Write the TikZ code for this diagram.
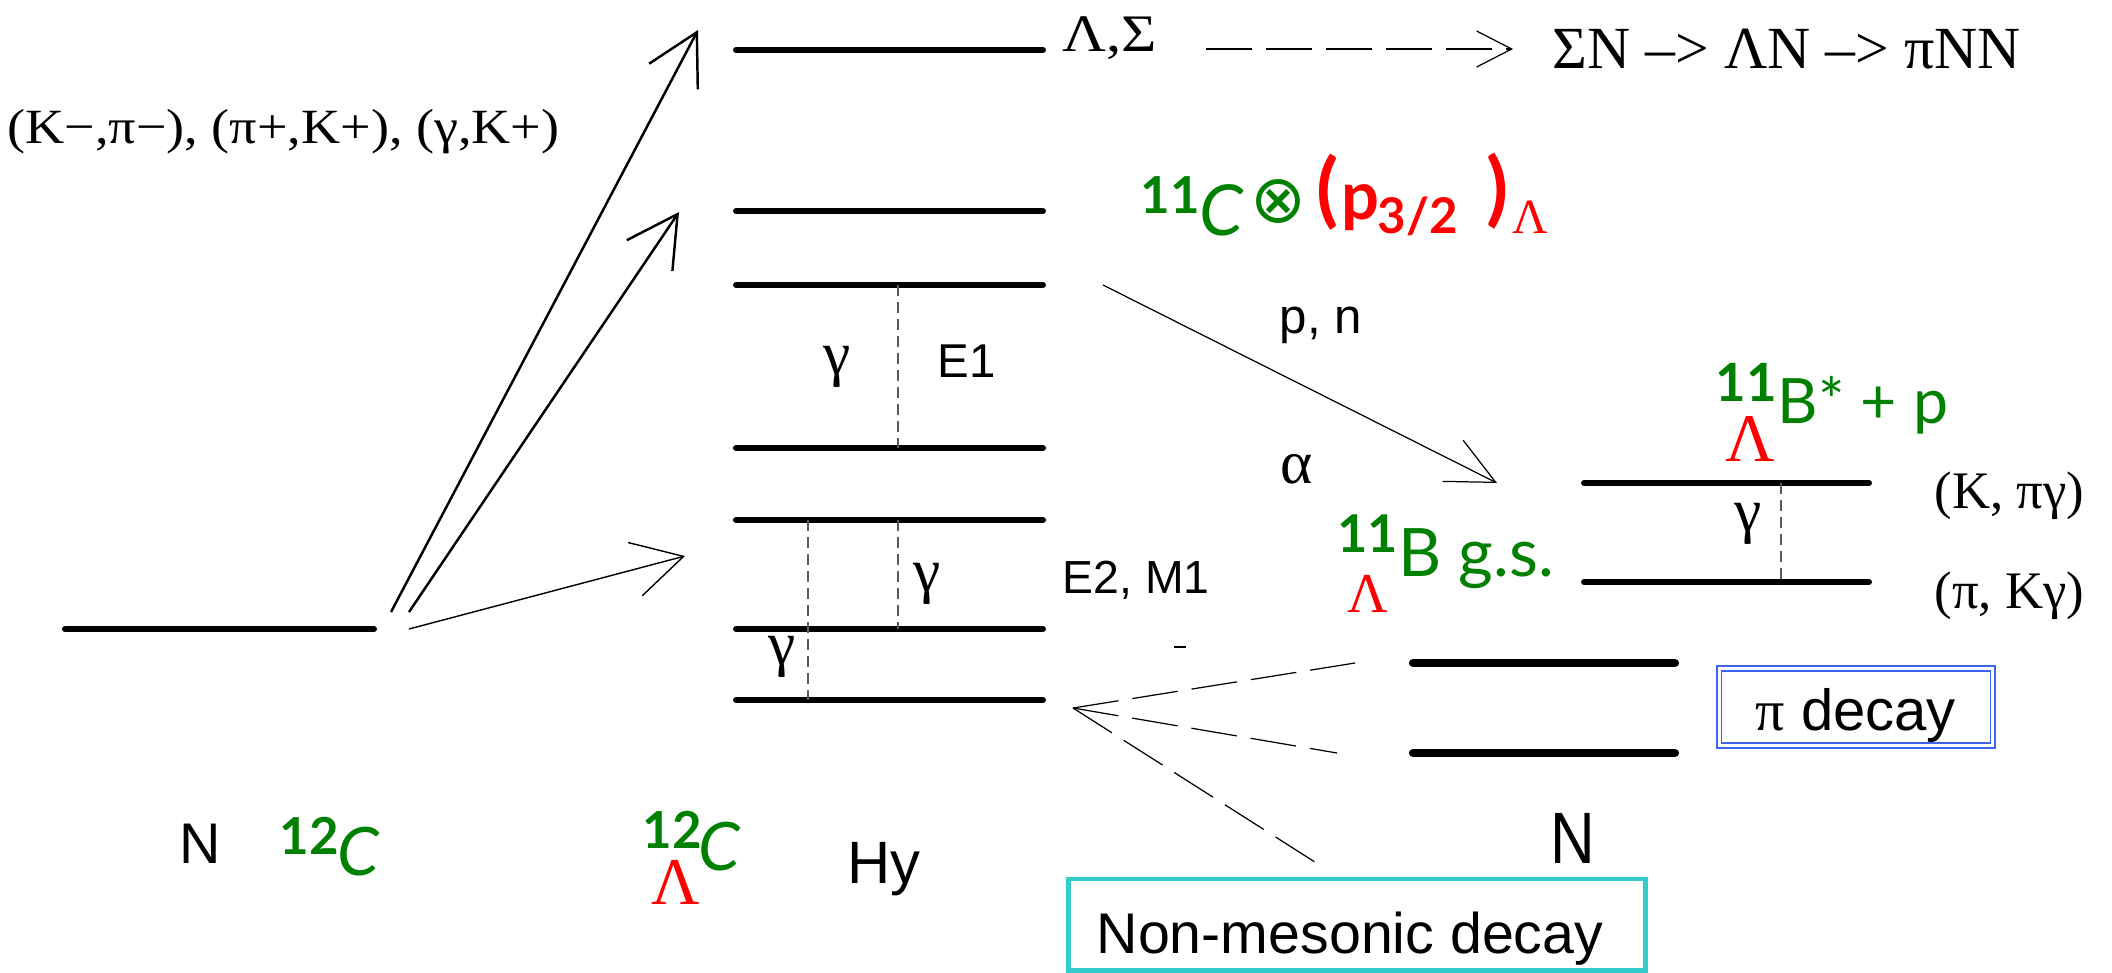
\documentclass[tikz,border=0pt]{standalone}
\usepackage{fontspec}
\usepackage{graphicx}
\setmainfont{Liberation Serif}
\setsansfont{Liberation Sans}
\newfontfamily\comic{Lato}
\newfontfamily\symf{DejaVu Sans}
\definecolor{NucGreen}{RGB}{0,128,0}
\definecolor{HypRed}{RGB}{255,0,0}
\definecolor{PiBlue}{RGB}{60,100,240}
\definecolor{NmTeal}{RGB}{51,204,204}
\definecolor{GamGray}{RGB}{90,90,90}
\usetikzlibrary{arrows.meta}

\begin{document}
\begin{tikzpicture}[x=0.01cm, y=-0.01cm,
    level/.style={line width=1.7pt, line cap=round},
    fatlevel/.style={line width=2.3pt, line cap=round},
    gline/.style={draw=GamGray, line width=0.35pt, dash pattern=on 0.11cm off 0.06cm},
    longdash/.style={line width=0.35pt, dash pattern=on 0.46cm off 0.14cm},
    openhead/.style={-{Straight Barb[length=5mm, width=5.5mm]}},
    lbl/.style={inner sep=0pt, anchor=base west, font=\fontsize{#1}{#1}\selectfont},
    slbl/.style={inner sep=0pt, anchor=base west, font=\sffamily\fontsize{#1}{#1}\selectfont},
    gam/.style={inner sep=0pt, font=\fontsize{17.5}{17.5}\selectfont},
    mass/.style={inner sep=0pt, anchor=base west, text=NucGreen, font=\comic\bfseries\fontsize{#1}{#1}\selectfont},
    elem/.style={inner sep=0pt, anchor=base west, text=NucGreen, font=\comic\fontsize{#1}{#1}\selectfont},
    lam/.style={inner sep=0pt, anchor=base west, text=HypRed, font=\fontsize{#1}{#1}\selectfont}
  ]
  \useasboundingbox (0,0) rectangle (2112,972);

  % core nucleus level
  \coordinate (gsL) at (65,629);
  \coordinate (gsR) at (374,629);
  \draw[level] (gsL) -- (gsR);

  % hypernucleus levels
  \foreach \yy [count=\i] in {50,211,285,448,520,629,700}{
    \coordinate (hyL\i) at (736,\yy);
    \coordinate (hyR\i) at (1043,\yy);
    \draw[level] (hyL\i) -- (hyR\i);
  }

  % 11B levels and pi decay levels
  \coordinate (exL) at (1584,483);
  \coordinate (exR) at (1869,483);
  \coordinate (gbL) at (1584,582);
  \coordinate (gbR) at (1869,582);
  \draw[level] (exL) -- (exR);
  \draw[level] (gbL) -- (gbR);
  \coordinate (pdL1) at (1413,663);
  \coordinate (pdR1) at (1675,663);
  \coordinate (pdL2) at (1413,753);
  \coordinate (pdR2) at (1675,753);
  \draw[fatlevel] (pdL1) -- (pdR1);
  \draw[fatlevel] (pdL2) -- (pdR2);

  % gamma transitions
  \coordinate (gx1) at (898,0);
  \coordinate (gx2) at (808,0);
  \coordinate (gx3) at (1781,0);
  \draw[gline] (gx1 |- hyL3) -- (gx1 |- hyL4);
  \draw[gline] (gx2 |- hyL5) -- (gx2 |- hyL7);
  \draw[gline] (gx1 |- hyL5) -- (gx1 |- hyL6);
  \draw[gline] (gx3 |- exL) -- (gx3 |- gbL);
  \node[gam] (g1) at (837,367) {γ};
  \node[gam] (g2) at (927,584) {γ};
  \node[gam] (g3) at (782,657) {γ};
  \node[gam] (g4) at (1748,524) {γ};

  % production arrows
  \coordinate (src1) at (391,612);
  \coordinate (src2) at (409,612);
  \coordinate (src3) at (409,629);
  \coordinate (tip1) at (698,30);
  \coordinate (tip2) at (679,212);
  \coordinate (tip3) at (685,556);
  \draw[openhead, line width=0.7pt] (src1) -- (tip1);
  \draw[openhead, line width=0.7pt] (src2) -- (tip2);
  \draw[openhead, line width=0.4pt] (src3) -- (tip3);

  % emission arrow
  \coordinate (pnStart) at (1103,285);
  \coordinate (pnTip) at (1497,483);
  \draw[-{Straight Barb[length=4.8mm, width=4.6mm]}, line width=0.35pt] (pnStart) -- (pnTip);

  % Sigma conversion
  \coordinate (dStart) at (1206,49);
  \coordinate (dTip) at (1513,49);
  \draw[longdash, -{Straight Barb[length=3.5mm, width=3.6mm]}] (dStart) -- (dTip);

  % weak decay fan
  \coordinate (fanTip) at (1073,708);
  \coordinate (fanA) at (1355,663);
  \coordinate (fanB) at (1337,753);
  \coordinate (fanC) at (1318,864);
  \draw[longdash] (fanTip) -- (fanA);
  \draw[longdash] (fanTip) -- (fanB);
  \draw[longdash] (fanTip) -- (fanC);
  \draw[line width=0.3pt] (1174,647) -- (1186,647);

  % texts
  \node[lbl=14] (react) at (7,143) {\scalebox{1.1}[1]{(K−,π−), (π+,K+), (γ,K+)}};
  \node[lbl=15] (lamsig) at (1062,51) {\scalebox{1.15}[1]{Λ,Σ}};
  \node[lbl=17] (chain) at (1552,68) {ΣN –> ΛN –> πNN};
  \node[slbl=14] (pn) at (1279,333) {p, n};
  \node[lbl=17.5] (alpha) at (1280,483) {α};
  \node[slbl=13.5] (e1) at (937,377) {E1};
  \node[slbl=13.2] (e2m1) at (1062,593) {E2, M1};
  \node[lbl=15] (kpg) at (1934,508) {(K, πγ)};
  \node[lbl=15] (pkg) at (1934,608) {(π, Kγ)};

  % 11C x p3/2 configuration
  \node[mass=14.5] (cMass) at (1140,213) {11};
  \node[elem=20, font=\comic\itshape\fontsize{20}{20}\selectfont] (cElem) at (1199,235) {C};
  \node[inner sep=0pt, text=NucGreen, font=\symf\fontsize{19}{19}\selectfont] (cTimes) at (1278,201) {⊗};
  \node[mass=23, text=HypRed] (cOpen) at (1316,217) {(};
  \node[mass=19, text=HypRed] (cP) at (1341,219) {p};
  \node[mass=14, text=HypRed] (cSub) at (1377,233) {3/2};
  \node[mass=23, text=HypRed] (cClose) at (1486,216) {)};
  \node[lam=14] (cLam) at (1512,233) {Λ};

  % 11B labels
  \node[mass=14.8] (bMass) at (1337,552) {11};
  \node[elem=19] (bElem) at (1398,576) {B g.s.};
  \node[lam=16] (bLam) at (1347,612) {Λ};
  \node[mass=15] (bxMass) at (1715,401) {11};
  \node[elem=17.8] (bxElem) at (1777,423) {B* + p};
  \node[lam=19.4] (bxLam) at (1725,461) {Λ};

  % bottom labels
  \node[slbl=16.3] (nN) at (179,863) {N};
  \node[mass=14.5] (nMass) at (279,854) {12};
  \node[elem=19, font=\comic\itshape\fontsize{19}{19}\selectfont] (nElem) at (337,875) {C};
  \node[mass=14.5] (hMass) at (642,848) {12};
  \node[elem=19, font=\comic\itshape\fontsize{19}{19}\selectfont] (hElem) at (698,870) {C};
  \node[lam=19] (hLam) at (651,904) {Λ};
  \node[slbl=17] (hy) at (847,883) {Hy};
  \node[slbl=20.7] (nR) at (1550,863) {\scalebox{0.85}[1]{N}};

  % decay boxes
  \node[draw=PiBlue, double, double distance=0.03cm, line width=0.018cm,
        minimum width=2.735cm, minimum height=0.765cm, inner sep=0pt] (piBox) at (1856,707) {};
  \node[slbl=16.5] (piText) at (1755,730) {{\rmfamily π} decay};
  \node[draw=NmTeal, line width=1.4pt, minimum width=5.76cm, minimum height=0.91cm,
        inner sep=0pt] (nmBox) at (1357,924.5) {};
  \node[slbl=16.3] (nmText) at (1096,953) {Non-mesonic decay};
\end{tikzpicture}
\end{document}
